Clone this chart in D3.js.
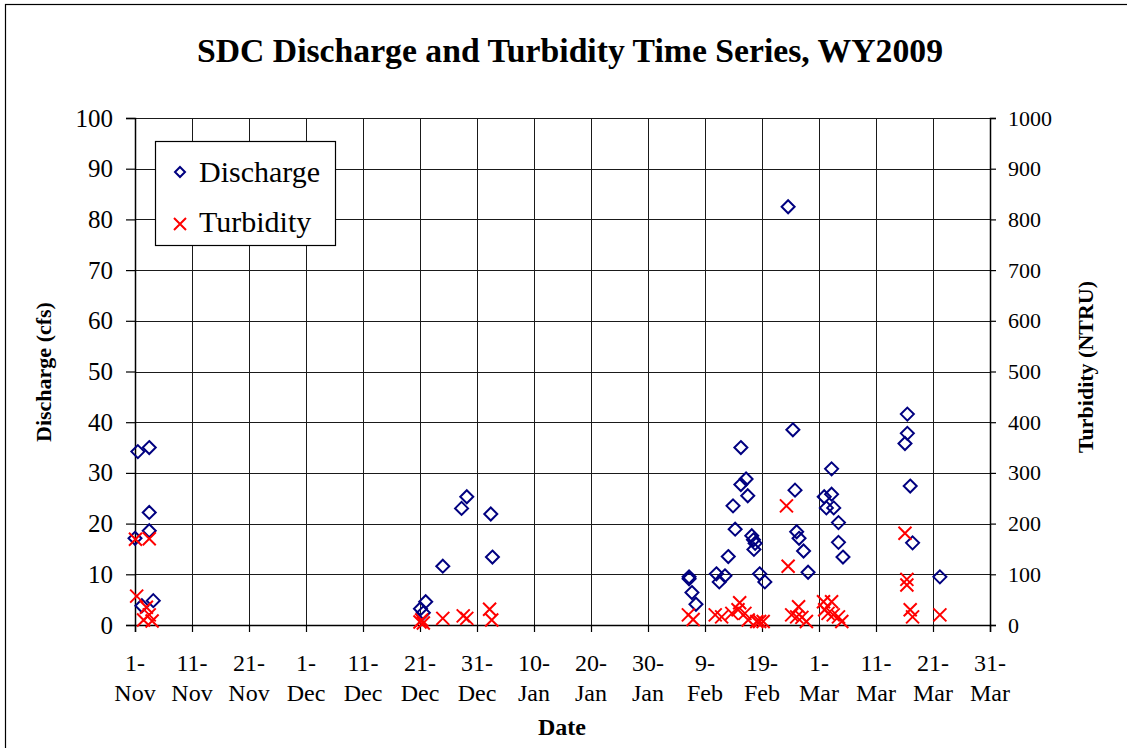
<!DOCTYPE html>
<html lang="en">
<head>
  <meta charset="UTF-8">
  <title>SDC Discharge and Turbidity</title>
  <style>
    *{ margin:0; padding:0; box-sizing:border-box }
    html, body { width:100%; height:100%; background:#fff; overflow:hidden }
    svg { position:absolute; top:0; left:0 }
    text { font-family:"Liberation Serif", "Times New Roman", serif; fill:#000 }
    .grid line { stroke:#1a1a1a; stroke-width:1 }
  </style>
  <script src="https://cdn.jsdelivr.net/npm/d3@7/dist/d3.min.js"></script>
</head>
<body>
  <svg id="chart"></svg>
  <script>
    // discharge samples (cfs)
    const dischargeDates = [
      "2008-11-01 00:00","2008-11-01 12:00","2008-11-02 05:00","2008-11-03 12:00","2008-11-03 12:00","2008-11-03 12:00","2008-11-04 05:00",
      "2008-12-21 02:00","2008-12-21 14:00","2008-12-22 00:00","2008-12-25 00:00","2008-12-28 07:00","2008-12-29 05:00","2009-01-02 10:00","2009-01-02 17:00",
      "2009-02-06 05:00","2009-02-06 05:00","2009-02-06 17:00","2009-02-07 10:00","2009-02-11 00:00","2009-02-11 12:00","2009-02-12 12:00","2009-02-13 02:00",
      "2009-02-13 22:00","2009-02-14 07:00","2009-02-15 07:00","2009-02-15 07:00","2009-02-16 05:00","2009-02-16 12:00","2009-02-17 05:00","2009-02-17 12:00",
      "2009-02-17 14:00","2009-02-17 19:00","2009-02-18 14:00","2009-02-19 12:00","2009-02-23 14:00","2009-02-24 10:00","2009-02-24 19:00","2009-02-25 02:00",
      "2009-02-25 12:00","2009-02-26 07:00","2009-02-27 02:00",
      "2009-03-01 22:00","2009-03-02 07:00","2009-03-03 05:00","2009-03-03 05:00","2009-03-03 14:00","2009-03-04 10:00","2009-03-04 10:00","2009-03-05 05:00",
      "2009-03-16 02:00","2009-03-16 12:00","2009-03-16 12:00","2009-03-17 00:00","2009-03-17 10:00","2009-03-22 05:00"
    ];
    const dischargeValues = [
      17.1,34.2,3.8,35.0,22.2,18.6,4.8,
      3.2,2.4,4.6,11.6,23.0,25.3,21.9,13.4,
      9.5,9.1,6.4,4.1,10.1,8.5,9.7,13.5,
      23.5,18.9,35.0,27.7,28.8,25.5,17.6,16.8,
      14.9,16.1,10.1,8.5,82.5,38.5,26.6,18.4,
      17.1,14.6,10.4,
      25.3,23.1,30.8,25.8,23.1,20.2,16.3,13.4,
      35.8,41.6,37.8,27.4,16.2,9.5
    ];

    // turbidity samples (NTRU)
    const turbidityDates = [
      "2008-11-01 02:00","2008-11-01 07:00","2008-11-02 12:00","2008-11-03 00:00","2008-11-03 12:00","2008-11-03 12:00","2008-11-04 00:00",
      "2008-12-21 00:00","2008-12-21 07:00","2008-12-21 14:00","2008-12-25 00:00","2008-12-28 14:00","2008-12-29 05:00","2009-01-02 05:00","2009-01-02 14:00",
      "2009-02-06 02:00","2009-02-06 22:00","2009-02-10 19:00","2009-02-11 22:00","2009-02-13 17:00","2009-02-14 19:00","2009-02-15 02:00","2009-02-16 00:00",
      "2009-02-16 14:00","2009-02-18 02:00","2009-02-18 14:00","2009-02-19 05:00","2009-02-23 07:00","2009-02-23 14:00","2009-02-24 05:00","2009-02-25 02:00",
      "2009-02-25 10:00","2009-02-26 00:00","2009-02-26 19:00",
      "2009-03-01 19:00","2009-03-02 00:00","2009-03-02 14:00","2009-03-03 05:00","2009-03-03 12:00","2009-03-04 10:00","2009-03-05 00:00",
      "2009-03-16 02:00","2009-03-16 10:00","2009-03-16 10:00","2009-03-17 00:00","2009-03-17 10:00","2009-03-22 05:00"
    ];
    const turbidityValues = [
      169,57,10,35,170,20,8,
      6,10,4,13,18,13,31,10,
      20,11,20,16,23,30,44,23,
      10,7,7,7,235,116,20,16,
      36,15,7,
      46,30,23,46,20,16,7,
      181,90,79,30,16,20
    ];

    const leftTicks  = [0,10,20,30,40,50,60,70,80,90,100];
    const rightTicks = [0,100,200,300,400,500,600,700,800,900,1000];
    const dayStep = 10, nDateTicks = 16;

    const W = 1127, H = 748;
    const P = { left:135, right:990, top:118, bottom:625 };
    const parse = d3.timeParse("%Y-%m-%d %H:%M");
    const start = new Date(2008, 10, 1);
    const dateTicks = d3.range(nDateTicks).map(i => d3.timeDay.offset(start, i*dayStep));

    const svg = d3.select("#chart").attr("width", W).attr("height", H);

    // outer frame
    svg.append("rect").attr("x",5.5).attr("y",4.5).attr("width",W+10).attr("height",H+10)
      .attr("fill","none").attr("stroke","#000").attr("stroke-width",1.2);

    const x  = d3.scaleTime().domain([dateTicks[0], dateTicks[dateTicks.length-1]]).range([P.left, P.right]);
    const yL = d3.scaleLinear().domain([0,100]).range([P.bottom, P.top]);
    const yR = d3.scaleLinear().domain([0,1000]).range([P.bottom, P.top]);

    // grid
    const grid = svg.append("g").attr("class","grid");
    grid.selectAll("line.h").data(leftTicks).join("line").attr("class","h")
      .attr("x1",P.left).attr("x2",P.right)
      .attr("y1",d=>Math.round(yL(d))+0.5).attr("y2",d=>Math.round(yL(d))+0.5);
    grid.selectAll("line.v").data(dateTicks).join("line").attr("class","v")
      .attr("y1",P.top).attr("y2",P.bottom)
      .attr("x1",d=>Math.round(x(d))+0.5).attr("x2",d=>Math.round(x(d))+0.5);

    // axes
    const axL = svg.append("g").attr("transform",`translate(${P.left},0)`)
      .call(d3.axisLeft(yL).tickValues(leftTicks).tickSize(9).tickPadding(13));
    const axR = svg.append("g").attr("transform",`translate(${P.right},0)`)
      .call(d3.axisRight(yR).tickValues(rightTicks).tickFormat(d3.format("d")).tickSize(6).tickPadding(12));
    const axB = svg.append("g").attr("transform",`translate(0,${P.bottom})`)
      .call(d3.axisBottom(x).tickValues(dateTicks).tickSize(7).tickFormat(""));
    [axL, axR, axB].forEach(a => {
      a.select(".domain").attr("stroke","#000").attr("stroke-width",1.5);
      a.selectAll(".tick line").attr("stroke","#000").attr("stroke-width",1.2);
    });
    axL.selectAll(".tick text").attr("font-family","Liberation Serif").attr("font-size",25).attr("fill","#000");
    axR.selectAll(".tick text").attr("font-family","Liberation Serif").attr("font-size",22).attr("fill","#000");

    // two-line date labels
    const fd = d3.timeFormat("%-d-"), fm = d3.timeFormat("%b");
    const dl = svg.append("g").selectAll("text").data(dateTicks).join("text")
      .attr("x",d=>x(d)).attr("text-anchor","middle").attr("font-size",24);
    dl.append("tspan").attr("x",d=>x(d)).attr("y",671).text(d=>fd(d));
    dl.append("tspan").attr("x",d=>x(d)).attr("y",701).text(d=>fm(d));

    // titles
    svg.append("text").attr("x",570).attr("y",62).attr("text-anchor","middle")
      .attr("font-size",34).attr("font-weight","bold")
      .attr("textLength",746).attr("lengthAdjust","spacingAndGlyphs")
      .text("SDC Discharge and Turbidity Time Series, WY2009");
    svg.append("text").attr("x",562).attr("y",735).attr("text-anchor","middle")
      .attr("font-size",24).attr("font-weight","bold").text("Date");
    svg.append("text").attr("transform","translate(51,372) rotate(-90)").attr("text-anchor","middle")
      .attr("font-size",22).attr("font-weight","bold").text("Discharge (cfs)");
    svg.append("text").attr("transform","translate(1093,367) rotate(-90)").attr("text-anchor","middle")
      .attr("font-size",22).attr("font-weight","bold").text("Turbidity (NTRU)");

    // markers
    const diamond = "M0,-6.5L6.5,0L0,6.5L-6.5,0Z";
    const cross = "M-6.5,-6.5L6.5,6.5M-6.5,6.5L6.5,-6.5";
    const discharge = dischargeDates.map((d,i)=>({date:parse(d), v:dischargeValues[i]}));
    const turbidity = turbidityDates.map((d,i)=>({date:parse(d), v:turbidityValues[i]}));

    svg.append("g").selectAll("path").data(discharge).join("path")
      .attr("d",diamond)
      .attr("transform",d=>`translate(${x(d.date)},${yL(d.v)})`)
      .attr("fill","none").attr("stroke","#000080").attr("stroke-width",2);
    svg.append("g").selectAll("path").data(turbidity).join("path")
      .attr("d",cross)
      .attr("transform",d=>`translate(${x(d.date)},${yR(d.v)})`)
      .attr("fill","none").attr("stroke","#ff0000").attr("stroke-width",2);

    // legend
    const lg = svg.append("g");
    lg.append("rect").attr("x",155.5).attr("y",141.5).attr("width",180).attr("height",104)
      .attr("fill","#fff").attr("stroke","#000").attr("stroke-width",1.2);
    lg.append("path").attr("d","M0,-5L5,0L0,5L-5,0Z").attr("transform","translate(180,172)")
      .attr("fill","none").attr("stroke","#000080").attr("stroke-width",2);
    lg.append("path").attr("d","M-6,-6L6,6M-6,6L6,-6").attr("transform","translate(180,224)")
      .attr("fill","none").attr("stroke","#ff0000").attr("stroke-width",2);
    lg.append("text").attr("x",199).attr("y",182).attr("font-size",30).text("Discharge");
    lg.append("text").attr("x",199).attr("y",232).attr("font-size",30).text("Turbidity");
  </script>
</body>
</html>
